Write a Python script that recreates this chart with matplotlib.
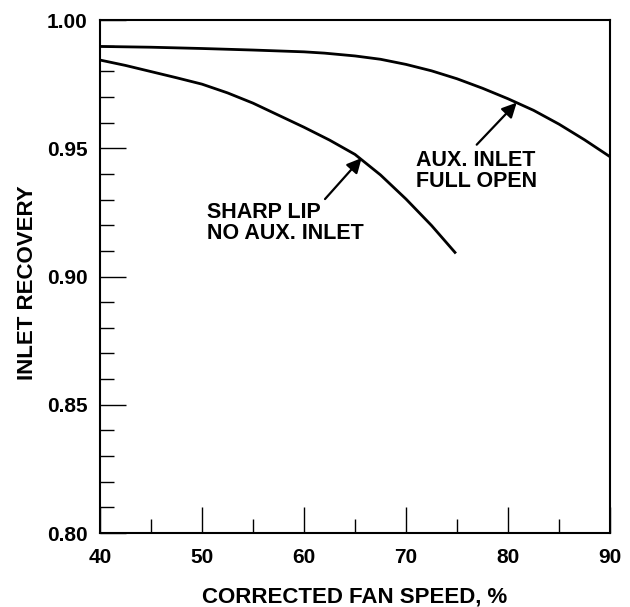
import numpy as np
import matplotlib.pyplot as plt
from matplotlib.ticker import MultipleLocator

# Curve readings (corrected fan speed %, inlet recovery)
aux_speed = [40, 45, 50, 55, 60, 62, 65, 67.5, 70, 72.5, 75, 77.5, 80, 82.5, 85, 87.5, 90]
aux_recovery = [0.9897, 0.9894, 0.9889, 0.9883, 0.9876, 0.9871, 0.9860, 0.9847,
                0.9827, 0.9802, 0.9771, 0.9734, 0.9693, 0.9648, 0.9594, 0.9533, 0.9467]

sharp_speed = [40, 42.5, 45, 47.5, 50, 52.5, 55, 57.5, 60, 62.5, 65, 67.5, 70, 72.5, 74.8]
sharp_recovery = [0.9844, 0.9823, 0.9799, 0.9775, 0.9750, 0.9716, 0.9676, 0.9629,
                  0.9582, 0.9532, 0.9476, 0.9396, 0.9302, 0.9199, 0.9094]

x_ticks = [40, 50, 60, 70, 80, 90]
y_ticks = [0.80, 0.85, 0.90, 0.95, 1.00]

plt.rcParams['font.family'] = ['Liberation Sans', 'DejaVu Sans']
plt.rcParams['font.weight'] = 'bold'

fig = plt.figure(figsize=(6.3, 6.07), dpi=100)
ax = fig.add_axes([0.1587, 0.1219, 0.8096, 0.8451])

ax.plot(aux_speed, aux_recovery, color='black', lw=2.0, solid_joinstyle='round')
ax.plot(sharp_speed, sharp_recovery, color='black', lw=2.0, solid_joinstyle='round')

ax.set_xlim(40, 90)
ax.set_ylim(0.80, 1.00)
ax.set_xticks(x_ticks)
ax.set_yticks(y_ticks)
ax.set_yticklabels([f'{v:.2f}' for v in y_ticks])
ax.xaxis.set_minor_locator(MultipleLocator(5))
ax.yaxis.set_minor_locator(MultipleLocator(0.01))

ax.tick_params(which='both', direction='in', top=False, right=False, width=1.0,
               color='black', labelsize=15)
ax.tick_params(which='major', length=19)
ax.tick_params(which='minor', length=10)
ax.tick_params(axis='y', pad=9)
ax.tick_params(axis='x', pad=11)
for lab in ax.get_xticklabels() + ax.get_yticklabels():
    lab.set_fontweight('bold')

for sp in ax.spines.values():
    sp.set_linewidth(1.5)

ax.set_xlabel('CORRECTED FAN SPEED, %', fontsize=16, fontweight='bold', labelpad=14)
ax.set_ylabel('INLET RECOVERY', fontsize=16, fontweight='bold')
ax.yaxis.set_label_coords(-0.122, 0.488)

arrow = dict(arrowstyle='-|>', color='black', lw=1.6, mutation_scale=22, shrinkA=0, shrinkB=0)
ax.annotate('', xy=(80.85, 0.9678), xytext=(76.93, 0.9514), arrowprops=arrow)
ax.annotate('', xy=(65.65, 0.9462), xytext=(62.06, 0.9302), arrowprops=arrow)

ax.text(70.98, 0.9412, 'AUX. INLET\nFULL OPEN', fontsize=15.5, fontweight='bold',
        ha='left', va='center', linespacing=1.0)
ax.text(50.46, 0.9207, 'SHARP LIP\nNO AUX. INLET', fontsize=15.5, fontweight='bold',
        ha='left', va='center', linespacing=1.0)

fig.savefig('out.png', dpi=100)
